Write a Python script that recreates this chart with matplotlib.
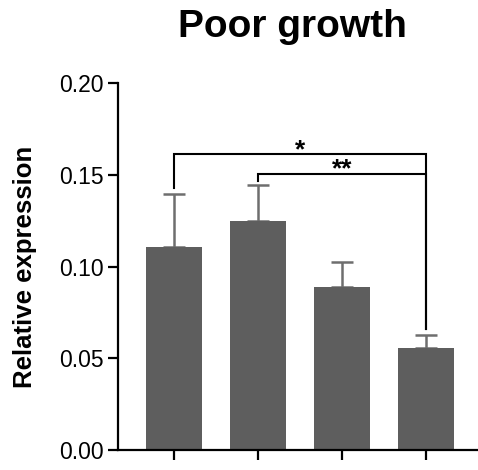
import matplotlib
matplotlib.use("Agg")
import matplotlib.pyplot as plt
import matplotlib.transforms as mtransforms

plt.rcParams['font.family'] = ['Liberation Sans', 'DejaVu Sans']

groups = ["G1", "G2", "G3", "G4"]
means = [0.1105, 0.1250, 0.0888, 0.0555]
errors = [0.0292, 0.0195, 0.0135, 0.0072]
yticks = [0.00, 0.05, 0.10, 0.15, 0.20]
ytick_labels = ["0.00", "0.05", "0.10", "0.15", "0.20"]
title = "Poor growth"
ylabel = "Relative expression"
# significance brackets: (left index, right index, bracket y, left leg bottom, label)
sig_pairs = [(0, 3, 0.1612, 0.1428, "*"), (1, 3, 0.1505, 0.1468, "**")]
right_leg_bottom = 0.0660

fig = plt.figure(figsize=(4.78, 4.70), dpi=100)
ax = fig.add_axes([118/478, 20/470, 360/478, 367/470])

x = list(range(len(groups)))
bar_color = "#5e5e5e"
ax.bar(x, means, width=0.667, color=bar_color, zorder=2)
ax.errorbar(x, means, yerr=[[0]*len(errors), errors], fmt="none",
            ecolor="#6e6e6e", elinewidth=1.8, capsize=8, capthick=1.8, zorder=1)

for li, ri, yb, lb, lab in sig_pairs:
    ax.plot([li, li, ri, ri], [lb, yb, yb, right_leg_bottom], color="black", lw=1.5,
            solid_joinstyle="miter", clip_on=False)
    off = mtransforms.ScaledTranslation(0, -2/72, fig.dpi_scale_trans)
    ax.text((li + ri) / 2, yb, lab, ha="center", va="baseline",
            fontsize=19, fontweight="bold", transform=ax.transData + off)

ax.set_xlim(-0.667, 3.62)
ax.set_ylim(0, 0.20)
ax.set_yticks(yticks)
ax.set_yticklabels(ytick_labels)
ax.set_xticks(x)
ax.set_xticklabels([""] * len(groups))

for s in ["top", "right"]:
    ax.spines[s].set_visible(False)
for s in ["left", "bottom"]:
    ax.spines[s].set_linewidth(1.6)
ax.tick_params(axis="y", length=7, width=1.6, labelsize=16.5, pad=3)
ax.tick_params(axis="x", length=7, width=1.6)

ax.set_ylabel(ylabel, fontsize=18.5, fontweight="bold", labelpad=16)
fig.text(292/478, 1 - 27/470, title, ha="center", va="center",
         fontsize=28, fontweight="bold")

fig.savefig("out.png", dpi=100)
